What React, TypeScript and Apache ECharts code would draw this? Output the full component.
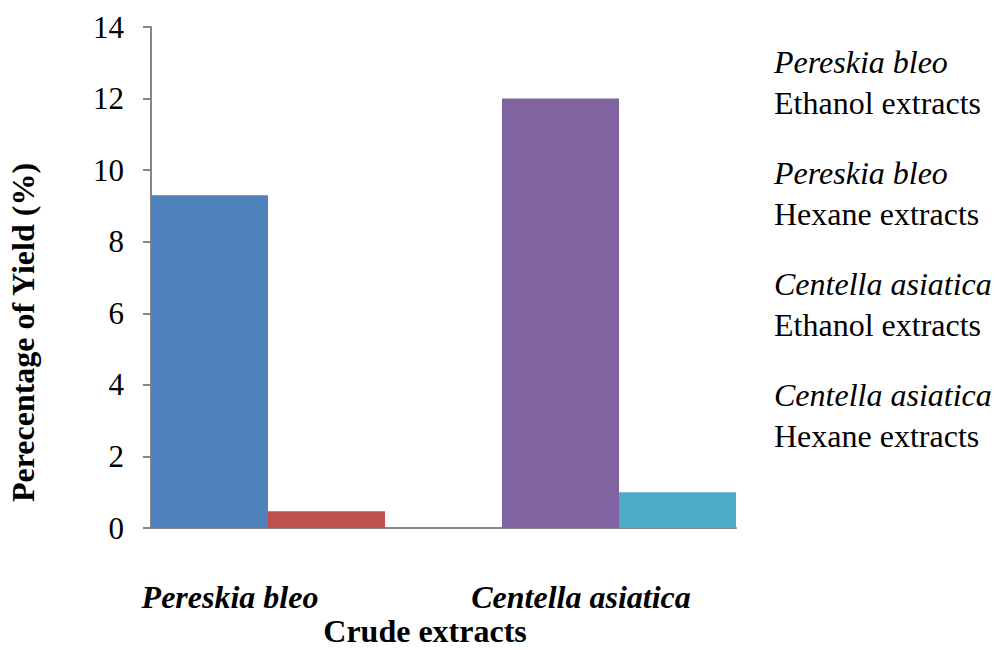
import React, { useEffect, useRef } from "react";
import * as echarts from "echarts";

// Bar slots along the category axis: two extracts per species with an empty slot between them
const slots = ["PB-Ethanol", "PB-Hexane", "gap", "CA-Ethanol", "CA-Hexane"];
const slotLabels = ["Pereskia bleo", "", "", "Centella asiatica", ""];

// Legend entries: species (italic) and extract type
const species = ["Pereskia bleo", "Pereskia bleo", "Centella asiatica", "Centella asiatica"];
const extracts = ["Ethanol extracts", "Hexane extracts", "Ethanol extracts", "Hexane extracts"];

// Percentage of yield (%) per slot
const pbEthanol = [9.3, null, null, null, null];
const pbHexane = [null, 0.47, null, null, null];
const caEthanol = [null, null, null, 12.0, null];
const caHexane = [null, null, null, null, 1.0];

const yTicks = { min: 0, max: 14, interval: 2 };
const colors = ["#4F81BD", "#C0504D", "#8064A2", "#4BACC6"];

const FONT = "'Liberation Serif', 'Times New Roman', serif";
const AXIS_GRAY = "#868686";

export default function App() {
  const ref = useRef<HTMLDivElement>(null);

  useEffect(() => {
    if (!ref.current) return;
    const chart = echarts.init(ref.current, undefined, { renderer: "svg" });
    const values = [pbEthanol, pbHexane, caEthanol, caHexane];
    const names = species.map((s, i) => `${s} ${extracts[i]}`);

    chart.setOption({
      animation: false,
      backgroundColor: "#ffffff",
      textStyle: { fontFamily: FONT, color: "#000" },
      grid: {
        left: 151,
        right: 260,
        top: 27,
        bottom: 122,
        containLabel: false,
        outerBoundsMode: "none",
      },
      legend: {
        orient: "vertical",
        left: 769,
        top: 41,
        padding: 0,
        itemWidth: 0,
        itemHeight: 0,
        itemGap: 29,
        selectedMode: false,
        data: names,
        formatter: (name: string) => {
          const i = names.indexOf(name);
          return `{sp|${species[i]}}\n{ex|${extracts[i]}}`;
        },
        textStyle: {
          fontFamily: FONT,
          color: "#000",
          fontSize: 32,
          lineHeight: 41,
          rich: {
            sp: { fontFamily: FONT, fontSize: 32, fontStyle: "italic", lineHeight: 41, color: "#000" },
            ex: { fontFamily: FONT, fontSize: 32, lineHeight: 41, color: "#000" },
          },
        },
      },
      xAxis: {
        type: "category",
        data: slots,
        name: "Crude extracts",
        nameLocation: "middle",
        nameGap: 87,
        nameMoveOverlap: false,
        nameTextStyle: {
          fontFamily: FONT,
          fontSize: 32,
          lineHeight: 32,
          fontWeight: "bold",
          color: "#000",
          padding: [0, 37, 0, 0],
        },
        axisLine: { show: true, lineStyle: { color: AXIS_GRAY, width: 2 } },
        axisTick: { show: false },
        axisLabel: {
          interval: 0,
          margin: 53,
          padding: [0, 0, 0, 41],
          fontFamily: FONT,
          fontSize: 32,
          fontWeight: "bold",
          fontStyle: "italic",
          color: "#000",
          formatter: (_v: string, idx: number) => slotLabels[idx],
        },
        splitLine: { show: false },
      },
      yAxis: {
        type: "value",
        min: yTicks.min,
        max: yTicks.max,
        interval: yTicks.interval,
        name: "Perecentage of Yield (%)",
        nameLocation: "middle",
        nameGap: 112,
        nameMoveOverlap: false,
        nameTextStyle: {
          fontFamily: FONT,
          fontSize: 32,
          fontWeight: "bold",
          color: "#000",
          padding: [0, 110, 0, 0],
        },
        axisLine: { show: true, lineStyle: { color: AXIS_GRAY, width: 2 } },
        axisTick: { show: true, inside: false, length: 8, lineStyle: { color: AXIS_GRAY, width: 2 } },
        axisLabel: { margin: 27, fontFamily: FONT, fontSize: 31, color: "#000" },
        splitLine: { show: false },
      },
      series: names.map((n, i) => ({
        name: n,
        type: "bar",
        data: values[i],
        barGap: "-100%",
        barCategoryGap: "0%",
        itemStyle: { color: colors[i] },
      })),
    });

    return () => chart.dispose();
  }, []);

  return (
    <div
      ref={ref}
      style={{ position: "fixed", left: 0, top: 0, width: 996, height: 650, background: "#fff" }}
    />
  );
}
